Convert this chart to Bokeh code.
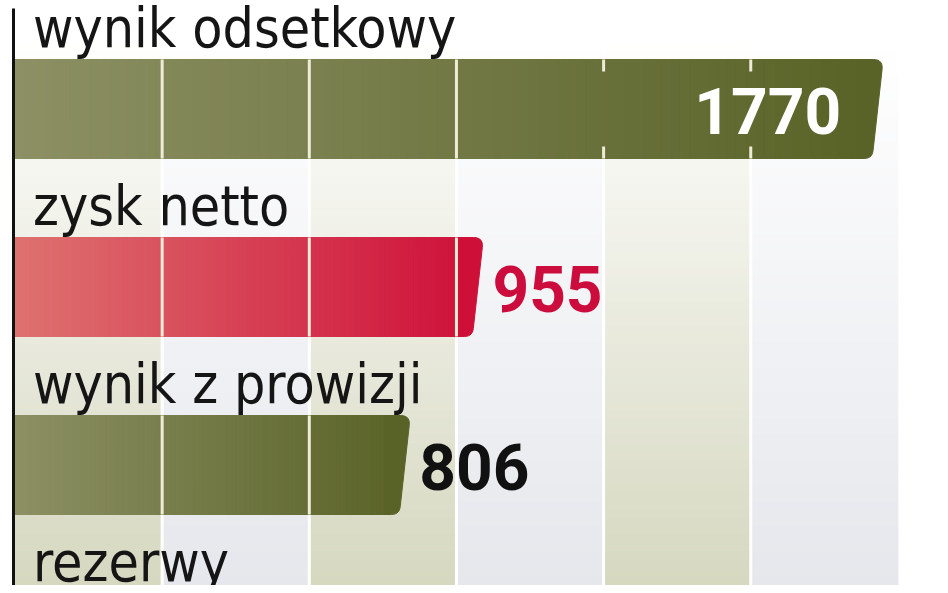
import numpy as np
from bokeh.plotting import figure
from bokeh.models import Range1d
from bokeh.core.properties import value
from bokeh.embed import file_html
from bokeh.resources import INLINE

# ---- data ----
categories = ["wynik odsetkowy", "zysk netto", "wynik z prowizji", "rezerwy"]
values = [1770, 955, 806, None]
highlight = [False, True, False, False]
grid_step = 300
grid_max = 1800

# ---- layout / style ----
W, H = 940, 585
ZERO_PX = 14.5
PX_PER_UNIT = 0.4905
U = 1.0 / PX_PER_UNIT
x_start = -ZERO_PX * U
x_end = x_start + W * U

ROW = 178
BAR_TOP = 59
BAR_H = 99
LABEL_SIZE = 55
NUM_SIZE = 64
# Bokeh's SVG text sits ~0.4em below the requested alphabetic baseline; compensate
LABEL_BASE = 49 - 0.4 * LABEL_SIZE
NUM_BASE_OFF = 77 - 0.4 * NUM_SIZE

BEIGE = (214, 216, 192)
GREY = (229, 231, 236)
WHITE = (255, 255, 255)
GREEN0, GREEN1 = (140, 144, 100), (88, 98, 38)
RED0, RED1 = (222, 114, 112), (206, 14, 56)
LABEL_FONT = "DejaVu Sans Condensed"
NUM_FONT = "Roboto"


def mix(c0, c1, t):
    r, g, b = (int(round(a + (bb - a) * t)) for a, bb in zip(c0, c1))
    return "#%02x%02x%02x" % (r, g, b)


def rounded(points, radii, steps=8):
    pts = [np.array(p, dtype=float) for p in points]
    n = len(pts)
    out = []
    for j in range(n):
        P, r = pts[j], radii[j]
        if r == 0:
            out.append(P)
            continue
        prev, nxt = pts[j - 1], pts[(j + 1) % n]
        d1 = (prev - P) / np.linalg.norm(prev - P)
        d2 = (nxt - P) / np.linalg.norm(nxt - P)
        a, b = P + d1 * r, P + d2 * r
        for t in np.linspace(0, 1, steps):
            out.append((1 - t) ** 2 * a + 2 * (1 - t) * t * P + t ** 2 * b)
    return out


p = figure(width=W, height=H, x_range=Range1d(x_start, x_end), y_range=Range1d(H, 0),
           output_backend="svg", toolbar_location=None, min_border=0,
           background_fill_color="white", border_fill_color="white", outline_line_color=None)
p.xaxis.visible = False
p.yaxis.visible = False
p.xgrid.visible = False
p.ygrid.visible = False

# ---- background columns with vertical fade ----
n_strips = 70
ys = np.linspace(0, H, n_strips + 1)
mids = (ys[:-1] + ys[1:]) / 2
fade = np.clip((mids - 40) / (H - 40), 0, 1)
for k in range(grid_max // grid_step):
    base = BEIGE if k % 2 == 0 else GREY
    cols = [mix(WHITE, base, t) for t in fade]
    p.quad(left=k * grid_step, right=(k + 1) * grid_step, top=ys[:-1], bottom=ys[1:],
           fill_color=cols, line_color=cols, line_width=1)

gl = list(range(grid_step, grid_max, grid_step))
p.segment(x0=gl, y0=[0] * len(gl), x1=gl, y1=[H] * len(gl), line_color="white", line_width=3)

# ---- bars ----
slant_px, r_top, r_bot = 11, 10, 8
vmax = max(x for x in values if x is not None)
labels_later = []
for i, (cat, v) in enumerate(zip(categories, values)):
    top = BAR_TOP + i * ROW
    bot = top + BAR_H
    labels_later.append((cat, LABEL_BASE + i * ROW))
    if v is None:
        continue
    c0, c1 = (RED0, RED1) if highlight[i] else (GREEN0, GREEN1)
    rect_end = v - (slant_px + r_top + 4) * U
    n = 90
    edges = np.linspace(0, rect_end, n + 1)
    cs = [mix(c0, c1, ((a + b) / 2) / v) for a, b in zip(edges[:-1], edges[1:])]
    p.quad(left=edges[:-1], right=edges[1:], top=top, bottom=bot, fill_color=cs, line_color=cs, line_width=1)
    # rounded, slanted end piece (computed in px space)
    vpx = v * PX_PER_UNIT
    spx = rect_end * PX_PER_UNIT - 1
    poly = rounded([(spx, top), (vpx, top), (vpx - slant_px, bot), (spx, bot)], [0, r_top, r_bot, 0])
    end_col = mix(c0, c1, 0.985)
    p.patch(x=[q[0] * U for q in poly], y=[q[1] for q in poly], fill_color=end_col, line_color=end_col, line_width=1)

    inside = v > 0.6 * vmax
    # separators over the bar
    lab_l, lab_r = v - 378 * U, v - 40 * U
    for m in range(grid_step, v, grid_step):
        if inside and lab_l < m < lab_r:
            p.segment(x0=[m, m], y0=[top, bot - 12], x1=[m, m], y1=[top + 12, bot],
                      line_color="#eeecd6", line_width=3)
        else:
            p.segment(x0=[m], y0=[top], x1=[m], y1=[bot], line_color="#eeecd6", line_width=3)

    # value label
    ybase = top + NUM_BASE_OFF
    if inside:
        p.text(x=[v - 42 * U], y=[ybase], text=[str(v)], text_font=value(NUM_FONT), text_font_style="bold",
               text_font_size=f"{NUM_SIZE}px", text_color="white", text_align="right", text_baseline="alphabetic")
    else:
        p.text(x=[v + 9 * U], y=[ybase], text=[str(v)], text_font=value(NUM_FONT), text_font_style="bold",
               text_font_size=f"{NUM_SIZE}px", text_color="#cc0c3c" if highlight[i] else "#111111",
               text_align="left", text_baseline="alphabetic")

# ---- category labels (on top, descenders overlap the bars) ----
for cat, yb in labels_later:
    p.text(x=[18 * U], y=[yb], text=[cat], text_font=value(LABEL_FONT),
           text_font_size=f"{LABEL_SIZE}px", text_color="#151515", text_baseline="alphabetic", text_align="left")

# ---- left axis line ----
p.segment(x0=[-1.5 * U], y0=[8], x1=[-1.5 * U], y1=[H], line_color="#111111", line_width=3)

open("out.html", "w").write(file_html(p, INLINE))
